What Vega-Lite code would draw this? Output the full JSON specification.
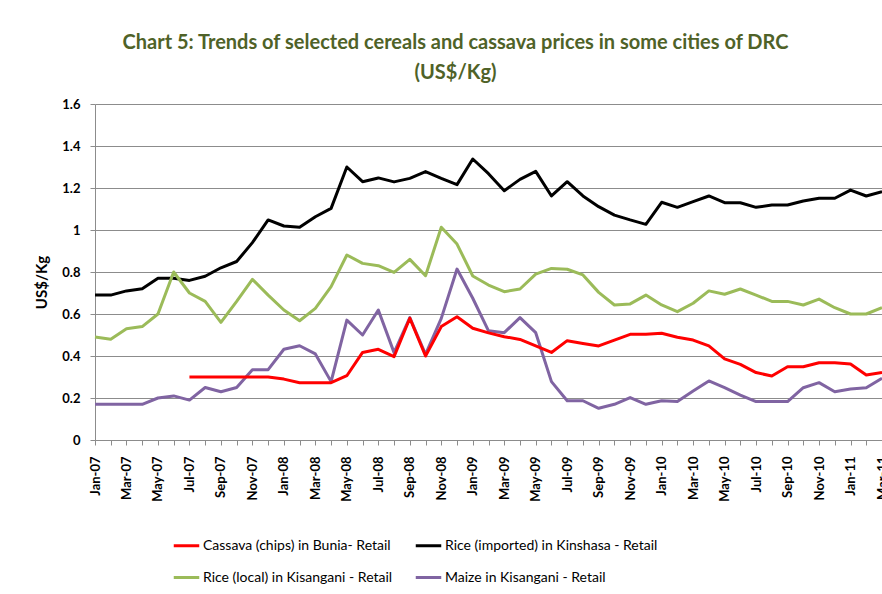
{
  "$schema": "https://vega.github.io/schema/vega-lite/v6.json",
  "width": 787,
  "height": 336,
  "autosize": "none",
  "padding": {"left": 95, "top": 104, "right": 0, "bottom": 154},
  "background": "white",
  "config": {
    "view": {"stroke": null},
    "font": "Lato"
  },
  "title": {
    "text": ["Chart 5: Trends of selected cereals and cassava prices in some cities of DRC", "(US$/Kg)"],
    "font": "Lato",
    "fontSize": 20,
    "fontWeight": "bold",
    "color": "#4F6228",
    "anchor": "middle",
    "dx": -33,
    "offset": 15,
    "lineHeight": 30
  },
  "data": {
    "values": [
      {"m": "Jan-07", "s": "Rice (imported) in Kinshasa - Retail", "v": 0.69},
      {"m": "Jan-07", "s": "Rice (local) in Kisangani - Retail", "v": 0.49},
      {"m": "Jan-07", "s": "Maize in Kisangani - Retail", "v": 0.17},
      {"m": "Feb-07", "s": "Rice (imported) in Kinshasa - Retail", "v": 0.69},
      {"m": "Feb-07", "s": "Rice (local) in Kisangani - Retail", "v": 0.48},
      {"m": "Feb-07", "s": "Maize in Kisangani - Retail", "v": 0.17},
      {"m": "Mar-07", "s": "Rice (imported) in Kinshasa - Retail", "v": 0.71},
      {"m": "Mar-07", "s": "Rice (local) in Kisangani - Retail", "v": 0.53},
      {"m": "Mar-07", "s": "Maize in Kisangani - Retail", "v": 0.17},
      {"m": "Apr-07", "s": "Rice (imported) in Kinshasa - Retail", "v": 0.72},
      {"m": "Apr-07", "s": "Rice (local) in Kisangani - Retail", "v": 0.54},
      {"m": "Apr-07", "s": "Maize in Kisangani - Retail", "v": 0.17},
      {"m": "May-07", "s": "Rice (imported) in Kinshasa - Retail", "v": 0.77},
      {"m": "May-07", "s": "Rice (local) in Kisangani - Retail", "v": 0.6},
      {"m": "May-07", "s": "Maize in Kisangani - Retail", "v": 0.2},
      {"m": "Jun-07", "s": "Rice (imported) in Kinshasa - Retail", "v": 0.77},
      {"m": "Jun-07", "s": "Rice (local) in Kisangani - Retail", "v": 0.8},
      {"m": "Jun-07", "s": "Maize in Kisangani - Retail", "v": 0.21},
      {"m": "Jul-07", "s": "Cassava (chips) in Bunia- Retail", "v": 0.3},
      {"m": "Jul-07", "s": "Rice (imported) in Kinshasa - Retail", "v": 0.76},
      {"m": "Jul-07", "s": "Rice (local) in Kisangani - Retail", "v": 0.7},
      {"m": "Jul-07", "s": "Maize in Kisangani - Retail", "v": 0.19},
      {"m": "Aug-07", "s": "Cassava (chips) in Bunia- Retail", "v": 0.3},
      {"m": "Aug-07", "s": "Rice (imported) in Kinshasa - Retail", "v": 0.78},
      {"m": "Aug-07", "s": "Rice (local) in Kisangani - Retail", "v": 0.66},
      {"m": "Aug-07", "s": "Maize in Kisangani - Retail", "v": 0.25},
      {"m": "Sep-07", "s": "Cassava (chips) in Bunia- Retail", "v": 0.3},
      {"m": "Sep-07", "s": "Rice (imported) in Kinshasa - Retail", "v": 0.82},
      {"m": "Sep-07", "s": "Rice (local) in Kisangani - Retail", "v": 0.56},
      {"m": "Sep-07", "s": "Maize in Kisangani - Retail", "v": 0.23},
      {"m": "Oct-07", "s": "Cassava (chips) in Bunia- Retail", "v": 0.3},
      {"m": "Oct-07", "s": "Rice (imported) in Kinshasa - Retail", "v": 0.85},
      {"m": "Oct-07", "s": "Rice (local) in Kisangani - Retail", "v": 0.66},
      {"m": "Oct-07", "s": "Maize in Kisangani - Retail", "v": 0.25},
      {"m": "Nov-07", "s": "Cassava (chips) in Bunia- Retail", "v": 0.3},
      {"m": "Nov-07", "s": "Rice (imported) in Kinshasa - Retail", "v": 0.94},
      {"m": "Nov-07", "s": "Rice (local) in Kisangani - Retail", "v": 0.765},
      {"m": "Nov-07", "s": "Maize in Kisangani - Retail", "v": 0.335},
      {"m": "Dec-07", "s": "Cassava (chips) in Bunia- Retail", "v": 0.3},
      {"m": "Dec-07", "s": "Rice (imported) in Kinshasa - Retail", "v": 1.048},
      {"m": "Dec-07", "s": "Rice (local) in Kisangani - Retail", "v": 0.69},
      {"m": "Dec-07", "s": "Maize in Kisangani - Retail", "v": 0.335},
      {"m": "Jan-08", "s": "Cassava (chips) in Bunia- Retail", "v": 0.29},
      {"m": "Jan-08", "s": "Rice (imported) in Kinshasa - Retail", "v": 1.019},
      {"m": "Jan-08", "s": "Rice (local) in Kisangani - Retail", "v": 0.619},
      {"m": "Jan-08", "s": "Maize in Kisangani - Retail", "v": 0.432},
      {"m": "Feb-08", "s": "Cassava (chips) in Bunia- Retail", "v": 0.273},
      {"m": "Feb-08", "s": "Rice (imported) in Kinshasa - Retail", "v": 1.013},
      {"m": "Feb-08", "s": "Rice (local) in Kisangani - Retail", "v": 0.568},
      {"m": "Feb-08", "s": "Maize in Kisangani - Retail", "v": 0.449},
      {"m": "Mar-08", "s": "Cassava (chips) in Bunia- Retail", "v": 0.273},
      {"m": "Mar-08", "s": "Rice (imported) in Kinshasa - Retail", "v": 1.063},
      {"m": "Mar-08", "s": "Rice (local) in Kisangani - Retail", "v": 0.627},
      {"m": "Mar-08", "s": "Maize in Kisangani - Retail", "v": 0.41},
      {"m": "Apr-08", "s": "Cassava (chips) in Bunia- Retail", "v": 0.273},
      {"m": "Apr-08", "s": "Rice (imported) in Kinshasa - Retail", "v": 1.103},
      {"m": "Apr-08", "s": "Rice (local) in Kisangani - Retail", "v": 0.73},
      {"m": "Apr-08", "s": "Maize in Kisangani - Retail", "v": 0.278},
      {"m": "May-08", "s": "Cassava (chips) in Bunia- Retail", "v": 0.306},
      {"m": "May-08", "s": "Rice (imported) in Kinshasa - Retail", "v": 1.3},
      {"m": "May-08", "s": "Rice (local) in Kisangani - Retail", "v": 0.881},
      {"m": "May-08", "s": "Maize in Kisangani - Retail", "v": 0.571},
      {"m": "Jun-08", "s": "Cassava (chips) in Bunia- Retail", "v": 0.417},
      {"m": "Jun-08", "s": "Rice (imported) in Kinshasa - Retail", "v": 1.23},
      {"m": "Jun-08", "s": "Rice (local) in Kisangani - Retail", "v": 0.841},
      {"m": "Jun-08", "s": "Maize in Kisangani - Retail", "v": 0.5},
      {"m": "Jul-08", "s": "Cassava (chips) in Bunia- Retail", "v": 0.432},
      {"m": "Jul-08", "s": "Rice (imported) in Kinshasa - Retail", "v": 1.248},
      {"m": "Jul-08", "s": "Rice (local) in Kisangani - Retail", "v": 0.83},
      {"m": "Jul-08", "s": "Maize in Kisangani - Retail", "v": 0.619},
      {"m": "Aug-08", "s": "Cassava (chips) in Bunia- Retail", "v": 0.397},
      {"m": "Aug-08", "s": "Rice (imported) in Kinshasa - Retail", "v": 1.229},
      {"m": "Aug-08", "s": "Rice (local) in Kisangani - Retail", "v": 0.798},
      {"m": "Aug-08", "s": "Maize in Kisangani - Retail", "v": 0.416},
      {"m": "Sep-08", "s": "Cassava (chips) in Bunia- Retail", "v": 0.58},
      {"m": "Sep-08", "s": "Rice (imported) in Kinshasa - Retail", "v": 1.246},
      {"m": "Sep-08", "s": "Rice (local) in Kisangani - Retail", "v": 0.86},
      {"m": "Sep-08", "s": "Maize in Kisangani - Retail", "v": 0.583},
      {"m": "Oct-08", "s": "Cassava (chips) in Bunia- Retail", "v": 0.4},
      {"m": "Oct-08", "s": "Rice (imported) in Kinshasa - Retail", "v": 1.278},
      {"m": "Oct-08", "s": "Rice (local) in Kisangani - Retail", "v": 0.782},
      {"m": "Oct-08", "s": "Maize in Kisangani - Retail", "v": 0.408},
      {"m": "Nov-08", "s": "Cassava (chips) in Bunia- Retail", "v": 0.54},
      {"m": "Nov-08", "s": "Rice (imported) in Kinshasa - Retail", "v": 1.246},
      {"m": "Nov-08", "s": "Rice (local) in Kisangani - Retail", "v": 1.013},
      {"m": "Nov-08", "s": "Maize in Kisangani - Retail", "v": 0.579},
      {"m": "Dec-08", "s": "Cassava (chips) in Bunia- Retail", "v": 0.587},
      {"m": "Dec-08", "s": "Rice (imported) in Kinshasa - Retail", "v": 1.216},
      {"m": "Dec-08", "s": "Rice (local) in Kisangani - Retail", "v": 0.933},
      {"m": "Dec-08", "s": "Maize in Kisangani - Retail", "v": 0.814},
      {"m": "Jan-09", "s": "Cassava (chips) in Bunia- Retail", "v": 0.532},
      {"m": "Jan-09", "s": "Rice (imported) in Kinshasa - Retail", "v": 1.338},
      {"m": "Jan-09", "s": "Rice (local) in Kisangani - Retail", "v": 0.781},
      {"m": "Jan-09", "s": "Maize in Kisangani - Retail", "v": 0.675},
      {"m": "Feb-09", "s": "Cassava (chips) in Bunia- Retail", "v": 0.51},
      {"m": "Feb-09", "s": "Rice (imported) in Kinshasa - Retail", "v": 1.268},
      {"m": "Feb-09", "s": "Rice (local) in Kisangani - Retail", "v": 0.738},
      {"m": "Feb-09", "s": "Maize in Kisangani - Retail", "v": 0.52},
      {"m": "Mar-09", "s": "Cassava (chips) in Bunia- Retail", "v": 0.492},
      {"m": "Mar-09", "s": "Rice (imported) in Kinshasa - Retail", "v": 1.187},
      {"m": "Mar-09", "s": "Rice (local) in Kisangani - Retail", "v": 0.706},
      {"m": "Mar-09", "s": "Maize in Kisangani - Retail", "v": 0.511},
      {"m": "Apr-09", "s": "Cassava (chips) in Bunia- Retail", "v": 0.479},
      {"m": "Apr-09", "s": "Rice (imported) in Kinshasa - Retail", "v": 1.241},
      {"m": "Apr-09", "s": "Rice (local) in Kisangani - Retail", "v": 0.719},
      {"m": "Apr-09", "s": "Maize in Kisangani - Retail", "v": 0.583},
      {"m": "May-09", "s": "Cassava (chips) in Bunia- Retail", "v": 0.448},
      {"m": "May-09", "s": "Rice (imported) in Kinshasa - Retail", "v": 1.279},
      {"m": "May-09", "s": "Rice (local) in Kisangani - Retail", "v": 0.79},
      {"m": "May-09", "s": "Maize in Kisangani - Retail", "v": 0.511},
      {"m": "Jun-09", "s": "Cassava (chips) in Bunia- Retail", "v": 0.417},
      {"m": "Jun-09", "s": "Rice (imported) in Kinshasa - Retail", "v": 1.162},
      {"m": "Jun-09", "s": "Rice (local) in Kisangani - Retail", "v": 0.817},
      {"m": "Jun-09", "s": "Maize in Kisangani - Retail", "v": 0.278},
      {"m": "Jul-09", "s": "Cassava (chips) in Bunia- Retail", "v": 0.473},
      {"m": "Jul-09", "s": "Rice (imported) in Kinshasa - Retail", "v": 1.23},
      {"m": "Jul-09", "s": "Rice (local) in Kisangani - Retail", "v": 0.813},
      {"m": "Jul-09", "s": "Maize in Kisangani - Retail", "v": 0.187},
      {"m": "Aug-09", "s": "Cassava (chips) in Bunia- Retail", "v": 0.46},
      {"m": "Aug-09", "s": "Rice (imported) in Kinshasa - Retail", "v": 1.162},
      {"m": "Aug-09", "s": "Rice (local) in Kisangani - Retail", "v": 0.786},
      {"m": "Aug-09", "s": "Maize in Kisangani - Retail", "v": 0.187},
      {"m": "Sep-09", "s": "Cassava (chips) in Bunia- Retail", "v": 0.448},
      {"m": "Sep-09", "s": "Rice (imported) in Kinshasa - Retail", "v": 1.111},
      {"m": "Sep-09", "s": "Rice (local) in Kisangani - Retail", "v": 0.703},
      {"m": "Sep-09", "s": "Maize in Kisangani - Retail", "v": 0.151},
      {"m": "Oct-09", "s": "Cassava (chips) in Bunia- Retail", "v": 0.476},
      {"m": "Oct-09", "s": "Rice (imported) in Kinshasa - Retail", "v": 1.071},
      {"m": "Oct-09", "s": "Rice (local) in Kisangani - Retail", "v": 0.643},
      {"m": "Oct-09", "s": "Maize in Kisangani - Retail", "v": 0.17},
      {"m": "Nov-09", "s": "Cassava (chips) in Bunia- Retail", "v": 0.503},
      {"m": "Nov-09", "s": "Rice (imported) in Kinshasa - Retail", "v": 1.048},
      {"m": "Nov-09", "s": "Rice (local) in Kisangani - Retail", "v": 0.648},
      {"m": "Nov-09", "s": "Maize in Kisangani - Retail", "v": 0.202},
      {"m": "Dec-09", "s": "Cassava (chips) in Bunia- Retail", "v": 0.503},
      {"m": "Dec-09", "s": "Rice (imported) in Kinshasa - Retail", "v": 1.027},
      {"m": "Dec-09", "s": "Rice (local) in Kisangani - Retail", "v": 0.69},
      {"m": "Dec-09", "s": "Maize in Kisangani - Retail", "v": 0.17},
      {"m": "Jan-10", "s": "Cassava (chips) in Bunia- Retail", "v": 0.508},
      {"m": "Jan-10", "s": "Rice (imported) in Kinshasa - Retail", "v": 1.132},
      {"m": "Jan-10", "s": "Rice (local) in Kisangani - Retail", "v": 0.643},
      {"m": "Jan-10", "s": "Maize in Kisangani - Retail", "v": 0.187},
      {"m": "Feb-10", "s": "Cassava (chips) in Bunia- Retail", "v": 0.489},
      {"m": "Feb-10", "s": "Rice (imported) in Kinshasa - Retail", "v": 1.108},
      {"m": "Feb-10", "s": "Rice (local) in Kisangani - Retail", "v": 0.611},
      {"m": "Feb-10", "s": "Maize in Kisangani - Retail", "v": 0.183},
      {"m": "Mar-10", "s": "Cassava (chips) in Bunia- Retail", "v": 0.476},
      {"m": "Mar-10", "s": "Rice (imported) in Kinshasa - Retail", "v": 1.135},
      {"m": "Mar-10", "s": "Rice (local) in Kisangani - Retail", "v": 0.651},
      {"m": "Mar-10", "s": "Maize in Kisangani - Retail", "v": 0.233},
      {"m": "Apr-10", "s": "Cassava (chips) in Bunia- Retail", "v": 0.448},
      {"m": "Apr-10", "s": "Rice (imported) in Kinshasa - Retail", "v": 1.162},
      {"m": "Apr-10", "s": "Rice (local) in Kisangani - Retail", "v": 0.71},
      {"m": "Apr-10", "s": "Maize in Kisangani - Retail", "v": 0.281},
      {"m": "May-10", "s": "Cassava (chips) in Bunia- Retail", "v": 0.386},
      {"m": "May-10", "s": "Rice (imported) in Kinshasa - Retail", "v": 1.13},
      {"m": "May-10", "s": "Rice (local) in Kisangani - Retail", "v": 0.694},
      {"m": "May-10", "s": "Maize in Kisangani - Retail", "v": 0.249},
      {"m": "Jun-10", "s": "Cassava (chips) in Bunia- Retail", "v": 0.36},
      {"m": "Jun-10", "s": "Rice (imported) in Kinshasa - Retail", "v": 1.13},
      {"m": "Jun-10", "s": "Rice (local) in Kisangani - Retail", "v": 0.719},
      {"m": "Jun-10", "s": "Maize in Kisangani - Retail", "v": 0.214},
      {"m": "Jul-10", "s": "Cassava (chips) in Bunia- Retail", "v": 0.321},
      {"m": "Jul-10", "s": "Rice (imported) in Kinshasa - Retail", "v": 1.108},
      {"m": "Jul-10", "s": "Rice (local) in Kisangani - Retail", "v": 0.69},
      {"m": "Jul-10", "s": "Maize in Kisangani - Retail", "v": 0.183},
      {"m": "Aug-10", "s": "Cassava (chips) in Bunia- Retail", "v": 0.305},
      {"m": "Aug-10", "s": "Rice (imported) in Kinshasa - Retail", "v": 1.119},
      {"m": "Aug-10", "s": "Rice (local) in Kisangani - Retail", "v": 0.66},
      {"m": "Aug-10", "s": "Maize in Kisangani - Retail", "v": 0.183},
      {"m": "Sep-10", "s": "Cassava (chips) in Bunia- Retail", "v": 0.349},
      {"m": "Sep-10", "s": "Rice (imported) in Kinshasa - Retail", "v": 1.119},
      {"m": "Sep-10", "s": "Rice (local) in Kisangani - Retail", "v": 0.66},
      {"m": "Sep-10", "s": "Maize in Kisangani - Retail", "v": 0.183},
      {"m": "Oct-10", "s": "Cassava (chips) in Bunia- Retail", "v": 0.349},
      {"m": "Oct-10", "s": "Rice (imported) in Kinshasa - Retail", "v": 1.138},
      {"m": "Oct-10", "s": "Rice (local) in Kisangani - Retail", "v": 0.643},
      {"m": "Oct-10", "s": "Maize in Kisangani - Retail", "v": 0.249},
      {"m": "Nov-10", "s": "Cassava (chips) in Bunia- Retail", "v": 0.368},
      {"m": "Nov-10", "s": "Rice (imported) in Kinshasa - Retail", "v": 1.151},
      {"m": "Nov-10", "s": "Rice (local) in Kisangani - Retail", "v": 0.671},
      {"m": "Nov-10", "s": "Maize in Kisangani - Retail", "v": 0.273},
      {"m": "Dec-10", "s": "Cassava (chips) in Bunia- Retail", "v": 0.368},
      {"m": "Dec-10", "s": "Rice (imported) in Kinshasa - Retail", "v": 1.151},
      {"m": "Dec-10", "s": "Rice (local) in Kisangani - Retail", "v": 0.63},
      {"m": "Dec-10", "s": "Maize in Kisangani - Retail", "v": 0.23},
      {"m": "Jan-11", "s": "Cassava (chips) in Bunia- Retail", "v": 0.362},
      {"m": "Jan-11", "s": "Rice (imported) in Kinshasa - Retail", "v": 1.19},
      {"m": "Jan-11", "s": "Rice (local) in Kisangani - Retail", "v": 0.6},
      {"m": "Jan-11", "s": "Maize in Kisangani - Retail", "v": 0.243},
      {"m": "Feb-11", "s": "Cassava (chips) in Bunia- Retail", "v": 0.31},
      {"m": "Feb-11", "s": "Rice (imported) in Kinshasa - Retail", "v": 1.162},
      {"m": "Feb-11", "s": "Rice (local) in Kisangani - Retail", "v": 0.6},
      {"m": "Feb-11", "s": "Maize in Kisangani - Retail", "v": 0.249},
      {"m": "Mar-11", "s": "Cassava (chips) in Bunia- Retail", "v": 0.321},
      {"m": "Mar-11", "s": "Rice (imported) in Kinshasa - Retail", "v": 1.183},
      {"m": "Mar-11", "s": "Rice (local) in Kisangani - Retail", "v": 0.63},
      {"m": "Mar-11", "s": "Maize in Kisangani - Retail", "v": 0.294}
    ]
  },
  "mark": {"type": "line", "strokeWidth": 3, "strokeJoin": "round", "clip": false},
  "encoding": {
    "x": {
      "field": "m",
      "type": "ordinal",
      "sort": null,
      "scale": {"type": "point", "padding": 0},
      "axis": {
        "title": null,
        "labelAngle": -90,
        "labelFont": "Lato",
        "labelFontSize": 13,
        "labelFontWeight": "bold",
        "labelColor": "black",
        "labelPadding": 11,
        "labelOverlap": false,
        "labelExpr": "indexof(['Jan','Mar','May','Jul','Sep','Nov'], slice(datum.label, 0, 3)) >= 0 ? datum.label : ''",
        "tickSize": 5,
        "tickColor": "#8c8c8c",
        "domainColor": "#8c8c8c",
        "grid": false
      }
    },
    "y": {
      "field": "v",
      "type": "quantitative",
      "scale": {"domain": [0, 1.6], "nice": false, "zero": true},
      "axis": {
        "title": "US$/Kg",
        "titleFont": "Lato",
        "titleFontSize": 15,
        "titleFontWeight": "bold",
        "titleColor": "black",
        "titleX": -46,
        "titleY": 178,
        "values": [0, 0.2, 0.4, 0.6, 0.8, 1, 1.2, 1.4, 1.6],
        "format": "~g",
        "labelFont": "Lato",
        "labelFontSize": 13,
        "labelFontWeight": "bold",
        "labelColor": "black",
        "labelPadding": 10,
        "tickSize": 5,
        "tickColor": "#8c8c8c",
        "domainColor": "#8c8c8c",
        "gridColor": "#8c8c8c",
        "gridWidth": 1
      }
    },
    "color": {
      "field": "s",
      "type": "nominal",
      "scale": {
        "domain": ["Cassava (chips) in Bunia- Retail", "Rice (local) in Kisangani - Retail", "Rice (imported) in Kinshasa - Retail", "Maize in Kisangani - Retail"],
        "range": ["#FF0000", "#9BBB59", "#000000", "#8064A2"]
      },
      "legend": {
        "title": null,
        "orient": "none",
        "legendX": 77,
        "legendY": 427,
        "columns": 2,
        "columnPadding": 16,
        "rowPadding": 10,
        "symbolType": "stroke",
        "symbolSize": 650,
        "symbolStrokeWidth": 3,
        "symbolOffset": 0,
        "labelOffset": 2,
        "labelFont": "Lato",
        "labelFontSize": 14,
        "labelColor": "black",
        "labelLimit": 400
      }
    }
  }
}
